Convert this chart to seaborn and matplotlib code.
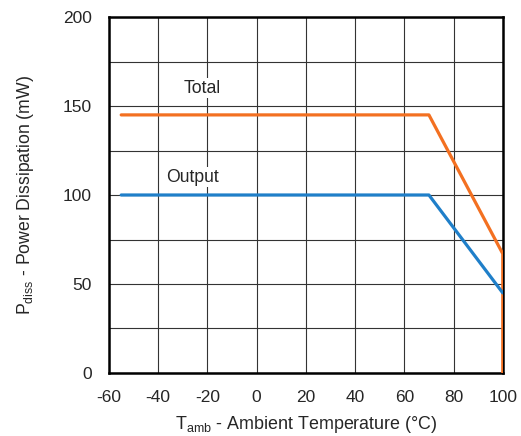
import numpy as np
import pandas as pd
import matplotlib
matplotlib.use("Agg")
import matplotlib.pyplot as plt
import seaborn as sns

# data
temp_total = [-55, 70, 100, 100]
power_total = [145, 145, 67, 0]
temp_output = [-55, 70, 100]
power_output = [100, 100, 45]

x_ticks = [-60, -40, -20, 0, 20, 40, 60, 80, 100]
y_ticks = [0, 50, 100, 150, 200]

sns.set_style("white")
plt.rcParams['font.family'] = ['Liberation Sans', 'DejaVu Sans']
plt.rcParams['mathtext.fontset'] = 'custom'
plt.rcParams['mathtext.rm'] = 'Liberation Sans'
plt.rcParams['mathtext.it'] = 'Liberation Sans:italic'
plt.rcParams['axes.unicode_minus'] = False

df_total = pd.DataFrame({"temp": temp_total, "power": power_total})
df_output = pd.DataFrame({"temp": temp_output, "power": power_output})

fig = plt.figure(figsize=(5.21, 4.36), dpi=100)
ax = fig.add_axes([0.209, 0.1445, 0.756, 0.8165])

sns.lineplot(data=df_total, x="temp", y="power", ax=ax, estimator=None, sort=False,
             color="#F37021", lw=2.3, zorder=3)
sns.lineplot(data=df_output, x="temp", y="power", ax=ax, estimator=None, sort=False,
             color="#1F7FC9", lw=2.3, zorder=3)

ax.set_xlim(-60, 100)
ax.set_ylim(0, 200)
ax.set_xticks(x_ticks)
ax.set_yticks(y_ticks)
ax.set_yticks(np.arange(25, 200, 50), minor=True)
ax.grid(which="both", color="#333333", lw=0.8)
ax.set_axisbelow(True)
ax.tick_params(which="both", length=0, labelsize=12.5)
ax.tick_params(axis="x", pad=12)
ax.tick_params(axis="y", pad=12.5)
for s in ax.spines.values():
    s.set_color("black")
    s.set_linewidth(1.8)

ax.text(-22, 160, "Total", fontsize=12.7, ha="center", va="center",
        bbox=dict(facecolor="white", edgecolor="none", pad=1), zorder=4)
ax.text(-26, 110, "Output", fontsize=12.7, ha="center", va="center",
        bbox=dict(facecolor="white", edgecolor="none", pad=1), zorder=4)

ax.set_xlabel(r"T$_{\mathrm{amb}}$ - Ambient Temperature (°C)", fontsize=12.9, labelpad=7)
ax.set_ylabel(r"P$_{\mathrm{diss}}$ - Power Dissipation (mW)", fontsize=12.7, labelpad=19)

fig.savefig("out.png", dpi=100)
